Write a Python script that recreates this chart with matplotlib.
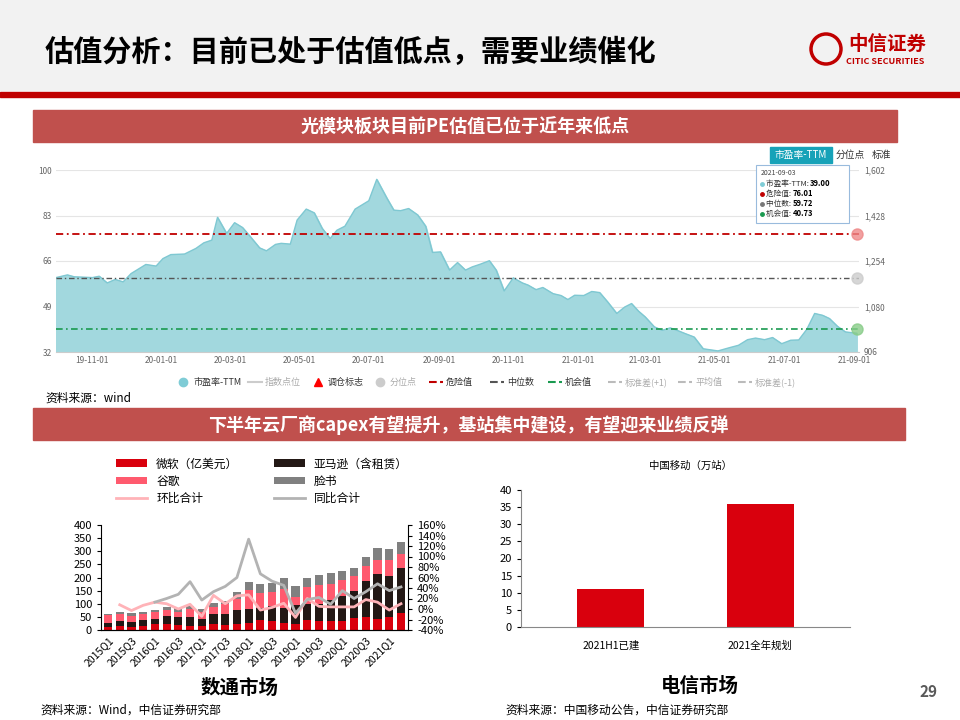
import matplotlib
matplotlib.use("Agg")
import matplotlib.pyplot as plt
import numpy as np
import pandas as pd
from matplotlib.patches import Rectangle

plt.rcParams["font.family"] = ["Noto Sans CJK SC", "DejaVu Sans"]

# ---------------- data ----------------
pe_dates = ["2019-09-30","2019-10-10","2019-10-16","2019-11-01","2019-11-07","2019-11-14","2019-11-21","2019-11-28",
 "2019-12-05","2019-12-18","2019-12-27","2020-01-02","2020-01-09","2020-01-21","2020-01-31","2020-02-07","2020-02-14",
 "2020-02-19","2020-02-27","2020-03-05","2020-03-12","2020-03-19","2020-03-27","2020-04-02","2020-04-10","2020-04-15",
 "2020-04-23","2020-04-29","2020-05-07","2020-05-14","2020-05-21","2020-05-28","2020-06-03","2020-06-10","2020-06-19",
 "2020-07-01","2020-07-08","2020-07-17","2020-07-23","2020-07-29","2020-08-05","2020-08-13","2020-08-20","2020-08-26",
 "2020-09-02","2020-09-10","2020-09-17","2020-09-24","2020-09-30","2020-10-07","2020-10-15","2020-10-21","2020-10-28",
 "2020-11-05","2020-11-13","2020-11-18","2020-11-25","2020-12-01","2020-12-10","2020-12-17","2020-12-23","2020-12-29",
 "2021-01-06","2021-01-13","2021-01-20","2021-01-27","2021-02-04","2021-02-11","2021-02-17","2021-02-23","2021-03-01",
 "2021-03-09","2021-03-16","2021-03-23","2021-03-29","2021-04-05","2021-04-13","2021-04-21","2021-05-04","2021-05-14",
 "2021-05-22","2021-05-30","2021-06-06","2021-06-14","2021-06-21","2021-06-29","2021-07-07","2021-07-14","2021-07-21",
 "2021-07-28","2021-08-04","2021-08-10","2021-08-17","2021-08-24","2021-09-03"]
pe_values = [59.8,60.8,60.1,59.8,60.3,57.8,59.1,58.2,61.3,64.7,64.1,66.9,68.4,68.6,70.7,72.8,73.8,82.3,76.3,80.3,78.5,
 75.0,70.9,69.8,72.2,72.6,72.3,81.3,85.4,84.0,78.2,74.4,77.5,79.0,85.4,88.5,96.5,89.4,85.0,84.8,85.6,83.2,79.0,69.2,
 69.4,62.6,65.4,62.6,63.8,64.8,66.1,62.6,54.8,59.7,57.8,57.0,55.3,56.1,53.8,53.1,51.6,53.2,53.1,54.6,54.2,50.7,46.4,
 48.8,50.1,47.3,45.1,41.4,40.1,41.0,40.1,38.9,37.6,33.2,32.4,33.6,34.5,36.6,37.2,36.6,37.4,35.1,36.4,36.5,40.4,46.4,
 45.7,44.5,41.6,39.5,39.0]
danger_val, median_val, chance_val = 76.01, 59.72, 40.73
pe_left_ticks = [32, 49, 66, 83, 100]
pe_right_labels = ["906", "1,080", "1,254", "1,428", "1,602"]
pe_xticks = ["2019-11-01","2020-01-01","2020-03-01","2020-05-01","2020-07-01","2020-09-01","2020-11-01",
             "2021-01-01","2021-03-01","2021-05-01","2021-07-01","2021-09-01"]

quarters = ["2015Q1","2015Q2","2015Q3","2015Q4","2016Q1","2016Q2","2016Q3","2016Q4","2017Q1","2017Q2","2017Q3","2017Q4",
            "2018Q1","2018Q2","2018Q3","2018Q4","2019Q1","2019Q2","2019Q3","2019Q4","2020Q1","2020Q2","2020Q3","2020Q4",
            "2021Q1","2021Q2"]
cum_ms   = [12,15,12,17,23,24,20,17,15,22,20,24,27,38,33,26,24,39,33,34,36,47,48,42,50,63]
cum_amzn = [25,33,30,38,41,52,48,48,42,60,60,75,80,83,90,85,95,98,100,115,130,150,188,212,205,235]
cum_goog = [57,61,55,62,67,76,70,80,68,87,98,120,153,140,145,155,126,162,172,177,192,205,242,268,265,290]
cum_fb   = [62,67,63,69,78,86,83,93,80,102,112,143,182,175,178,198,166,198,208,218,226,236,278,313,307,336]
microsoft = cum_ms
amazon = [a - b for a, b in zip(cum_amzn, cum_ms)]
google = [a - b for a, b in zip(cum_goog, cum_amzn)]
facebook = [a - b for a, b in zip(cum_fb, cum_goog)]
qoq = [None,8,-3,7,13,10,0,9,-14,26,10,25,27,-2,3,11,-16,20,5,4,4,4,18,13,-2,10]
yoy = [None]*4 + [13,20,28,52,17,33,43,60,133,67,53,45,-8,18,22,9,35,20,33,48,35,42]

cm_cats = ["2021H1已建", "2021全年规划"]
cm_vals = [11, 36]

RED = "#c0504d"
BAR_RED = "#d9000d"

fig = plt.figure(figsize=(9.6, 7.2), dpi=100)
W, H = 960, 720
def ax_at(l, t, r, b, z=0):
    return fig.add_axes([l/W, 1-b/H, (r-l)/W, (b-t)/H], zorder=z)

# background / header
bg = ax_at(0, 0, 960, 720, z=-1); bg.set_xlim(0, 960); bg.set_ylim(720, 0); bg.axis("off")
bg.add_patch(Rectangle((0, 0), 960, 90, color="#f2f2f2"))
bg.add_patch(Rectangle((0, 92), 960, 5, color="#c00000"))
bg.text(45, 52, "估值分析：目前已处于估值低点，需要业绩催化", fontsize=21, fontweight="bold", va="center")
bg.text(848, 44, "中信证券", fontsize=14, fontweight="bold", color="#c00000", va="center")
bg.text(846, 61, "CITIC SECURITIES", fontsize=6.5, fontweight="bold", color="#c00000", va="center")
bg.add_patch(plt.Circle((826, 49), 15, fill=False, ec="#c00000", lw=2.5))
bg.add_patch(Rectangle((33, 110), 864, 32, color=RED))
bg.text(465, 127, "光模块板块目前PE估值已位于近年来低点", fontsize=13, fontweight="bold", color="white", ha="center", va="center")
bg.add_patch(Rectangle((33, 408), 872, 32, color=RED))
bg.text(468, 425, "下半年云厂商capex有望提升，基站集中建设，有望迎来业绩反弹", fontsize=13, fontweight="bold", color="white", ha="center", va="center")
bg.text(45, 398, "资料来源：wind", fontsize=8.5, va="center")
bg.text(40, 710, "资料来源：Wind，中信证券研究部", fontsize=8.5, va="center")
bg.text(505, 710, "资料来源：中国移动公告，中信证券研究部", fontsize=8.5, va="center")
bg.text(240, 688, "数通市场", fontsize=14, fontweight="bold", ha="center", va="center")
bg.text(700, 686, "电信市场", fontsize=14, fontweight="bold", ha="center", va="center")
bg.text(928, 692, "29", fontsize=11, color="#595959", ha="center", va="center", fontweight="bold")
bg.text(690, 466, "中国移动（万站）", fontsize=7.5, ha="center", va="center")
# buttons
bg.add_patch(Rectangle((770, 147), 62, 16, color="#17a2b8"))
bg.text(801, 155, "市盈率-TTM", fontsize=7, color="white", ha="center", va="center")
bg.text(850, 155, "分位点", fontsize=7, color="#333", ha="center", va="center")
bg.text(882, 155, "标准", fontsize=7, color="#333", ha="center", va="center")
# legend row for PE chart
leg_items = [(183, "市盈率-TTM", "#7fccd6", "o"), (255, "指数点位", "#cccccc", "-"), (318, "调仓标志", "red", "^"),
             (380, "分位点", "#cccccc", "o"), (436, "危险值", "#c00000", "--"), (497, "中位数", "#555555", "--"),
             (555, "机会值", "#1a9a50", "--"), (615, "标准差(+1)", "#bbbbbb", "--"), (685, "平均值", "#bbbbbb", "--"),
             (745, "标准差(-1)", "#bbbbbb", "--")]
for x, lab, c, m in leg_items:
    if m in ("o", "^"):
        bg.plot([x], [382], marker=m, color=c, ms=6)
    else:
        bg.plot([x-7, x+7], [382, 382], ls=m, color=c, lw=1.5)
    grey = c in ("#cccccc", "#bbbbbb")
    bg.text(x+10, 382, lab, fontsize=6.5, va="center", color="#aaaaaa" if grey else "#333")

# ---------------- PE chart ----------------
ax = ax_at(56, 170, 859, 352)
d = pd.to_datetime(pe_dates)
ax.fill_between(d, pe_values, 32, color="#a2d8de")
ax.plot(d, pe_values, color="#7fc8d2", lw=1)
ax.axhline(danger_val, color="#c00000", ls=(0, (4, 2, 1, 2)), lw=1.3)
ax.axhline(median_val, color="#555555", ls=(0, (4, 2, 1, 2)), lw=1)
ax.axhline(chance_val, color="#1a9a50", ls=(0, (4, 2, 1, 2)), lw=1.2)
for v, c in [(danger_val, "#e88"), (median_val, "#ccc"), (chance_val, "#8c8")]:
    ax.plot([d[-1]], [v], "o", color=c, ms=8, alpha=0.8, clip_on=False)
ax.set_ylim(32, 100); ax.set_xlim(d[0], d[-1] + pd.Timedelta(days=2))
ax.set_yticks(pe_left_ticks)
ax.set_yticklabels([str(t) for t in pe_left_ticks], fontsize=6, color="#666")
xt = pd.to_datetime(pe_xticks)
ax.set_xticks(xt); ax.set_xticklabels([t.strftime("%y-%m-%d") for t in xt], fontsize=6, color="#666")
ax.grid(axis="y", color="#e5e5e5", lw=0.8)
ax.set_axisbelow(True)
for s in ["top", "right", "left"]:
    ax.spines[s].set_visible(False)
ax.spines["bottom"].set_color("#ccc")
ax.tick_params(length=0, pad=3)
ax2 = ax.twinx(); ax2.set_ylim(32, 100); ax2.set_yticks(pe_left_ticks)
ax2.set_yticklabels(pe_right_labels, fontsize=6, color="#666")
ax2.tick_params(length=0)
for s in ax2.spines.values(): s.set_visible(False)

# tooltip overlay
ov = ax_at(0, 0, 960, 720, z=10); ov.set_xlim(0, 960); ov.set_ylim(720, 0); ov.axis("off")
ov.add_patch(Rectangle((756, 165), 93, 58, fc="white", ec="#9bd", lw=0.8))
ov.text(761, 173, "2021-09-03", fontsize=5, color="#444", va="center")
for i, (lab, v, c) in enumerate([("市盈率-TTM", 39.00, "#7fccd6"), ("危险值", danger_val, "#c00000"),
                                 ("中位数", median_val, "#777"), ("机会值", chance_val, "#1a9a50")]):
    y = 184 + i*10
    ov.plot([762], [y], "o", color=c, ms=2.5)
    ov.text(766, y, f"{lab}: ", fontsize=5.5, va="center", color="#333")
    ov.text(766 + (44 if i == 0 else 27), y, f"{v:.2f}", fontsize=5.5, va="center", fontweight="bold")

# ---------------- capex chart ----------------
bx = ax_at(101, 525, 408, 630)
x = np.arange(len(quarters))
b1 = bx.bar(x, microsoft, 0.7, color=BAR_RED)
b2 = bx.bar(x, amazon, 0.7, bottom=cum_ms, color="#231815")
b3 = bx.bar(x, google, 0.7, bottom=cum_amzn, color="#ff5a6e")
b4 = bx.bar(x, facebook, 0.7, bottom=cum_goog, color="#808080")
bx.set_ylim(0, 400); bx.set_yticks(range(0, 401, 50))
bx.set_xlim(-0.6, len(quarters) - 0.4)
bx.set_xticks(x[::2]); bx.set_xticklabels(quarters[::2], rotation=45, ha="right", rotation_mode="anchor", fontsize=7.5)
bx.tick_params(axis="y", labelsize=8, length=3)
bx.tick_params(axis="x", length=0)
for s in ["top", "right"]: bx.spines[s].set_visible(False)
bx2 = bx.twinx()
q = np.array([np.nan if v is None else v for v in qoq], float)
yy = np.array([np.nan if v is None else v for v in yoy], float)
l1, = bx2.plot(x, q, color="#ffb3b8", lw=2)
l2, = bx2.plot(x, yy, color="#b3b3b3", lw=2)
bx2.set_ylim(-40, 160); bx2.set_yticks(range(-40, 161, 20))
bx2.set_yticklabels([f"{t}%" for t in range(-40, 161, 20)], fontsize=8)
bx2.tick_params(length=3)
for s in ["top", "left"]: bx2.spines[s].set_visible(False)
fig.legend([b1, b3, l1, b2, b4, l2], ["微软（亿美元）", "谷歌", "环比合计", "亚马逊（含租赁）", "脸书", "同比合计"],
           ncol=2, loc="center", bbox_to_anchor=(262/W, 1-481/H), frameon=False,
           fontsize=8.5, handlelength=2.6, columnspacing=3.0, labelspacing=0.35, handleheight=0.6)

# ---------------- China Mobile chart ----------------
cx = ax_at(521, 490, 850, 627)
cx.bar([0, 1], cm_vals, 0.45, color=BAR_RED)
cx.set_xlim(-0.6, 1.6); cx.set_ylim(0, 40); cx.set_yticks(range(0, 41, 5))
cx.set_xticks([0, 1]); cx.set_xticklabels(cm_cats, fontsize=7.5)
cx.tick_params(axis="y", labelsize=8, length=3); cx.tick_params(axis="x", length=0, pad=10)
for s in ["top", "right"]: cx.spines[s].set_visible(False)
cx.spines["left"].set_color("#888"); cx.spines["bottom"].set_color("#888")

fig.savefig("out.png", dpi=100)
